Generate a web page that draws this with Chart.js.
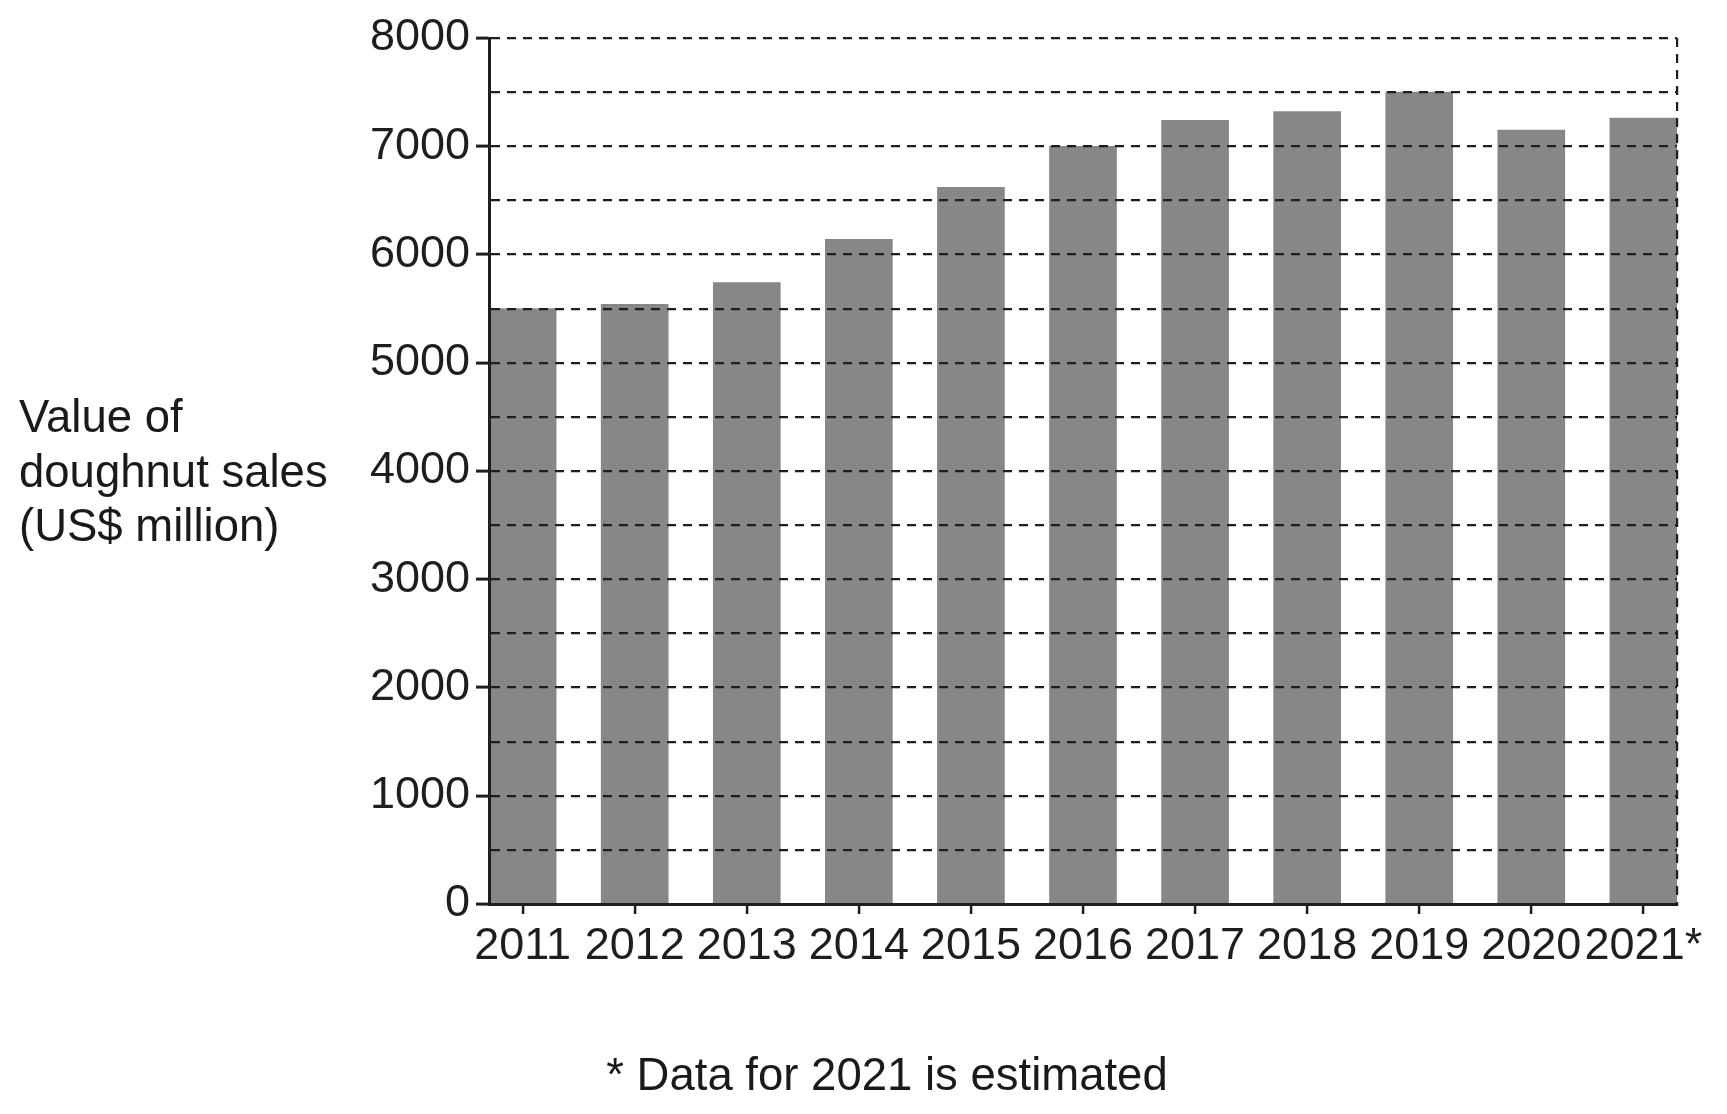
<!DOCTYPE html>
<html>
<head>
<meta charset="utf-8">
<script src="https://cdn.jsdelivr.net/npm/chart.js@4.4.0/dist/chart.umd.min.js"></script>
<style>
  html, body { margin: 0; padding: 0; background: #fff; overflow: hidden; }
  #wrap { position: relative; width: 1727px; height: 1114px; }
  #yTitle { position: absolute; left: 19px; top: 390px; font: 45.5px/54.5px "Liberation Sans", Arial, sans-serif; color: #1a1a1a; }
  #note { position: absolute; left: 887px; top: 1048px; transform: translateX(-50%); white-space: nowrap; font: 45.5px/54px "Liberation Sans", Arial, sans-serif; color: #1a1a1a; }
</style>
</head>
<body>
<div id="wrap">
  <canvas id="salesChart" width="1727" height="1114"></canvas>
  <div id="yTitle">Value of<br>doughnut sales<br>(US$ million)</div>
  <div id="note">* Data for 2021 is estimated</div>
</div>
<script>
let years = ["2011", "2012", "2013", "2014", "2015", "2016", "2017", "2018", "2019", "2020", "2021*"];
let sales = [5500, 5540, 5740, 6140, 6620, 7000, 7240, 7320, 7500, 7150, 7260];
let yMax = 8000;
let yStep = 500;       // dashed grid every 500
let yLabelEvery = 1000; // labelled ticks

const ink = "#1e1e1e";
const tickFont = { family: "'Liberation Sans', Arial, sans-serif", size: 45 };

// is this the extra tick used for the dashed right-hand frame?
const isEdge = ctx => ctx.tick && ctx.tick.value === ctx.scale.max;

new Chart(document.getElementById("salesChart"), {
    type: "bar",
    data: {
        datasets: [{
            data: sales.map((v, i) => ({ x: i, y: v })),
            backgroundColor: "#878787",
            borderWidth: 0,
            barThickness: 67
        }]
    },
    options: {
        responsive: false,
        animation: false,
        layout: { padding: { top: 38, right: 50, left: 0, bottom: 0 } },
        plugins: { legend: { display: false }, tooltip: { enabled: false } },
        scales: {
            x: {
                type: "linear",
                offset: false,
                min: -0.3,
                max: years.length - 1 + 0.3,
                afterBuildTicks: s => {
                    s.ticks = years.map((_, i) => ({ value: i })).concat([{ value: s.max }]);
                },
                afterFit: s => { s.height = 210; },
                ticks: {
                    autoSkip: false,
                    maxRotation: 0,
                    padding: 6,
                    color: ink,
                    font: tickFont,
                    callback: v => years[v] ?? ""
                },
                grid: {
                    offset: false,
                    z: 1,
                    lineWidth: 2.2,
                    color: ctx => isEdge(ctx) ? ink : "transparent",
                    tickColor: ctx => isEdge(ctx) ? "transparent" : ink,
                    tickLength: 10,
                    tickWidth: 2.5
                },
                border: { color: ink, width: 3, z: 2, dash: [9, 7] }
            },
            y: {
                min: 0,
                max: yMax,
                afterFit: s => { s.width = 489; },
                ticks: {
                    stepSize: yStep,
                    autoSkip: false,
                    padding: 6,
                    color: ink,
                    font: tickFont,
                    callback: v => v % yLabelEvery === 0 ? String(v) : ""
                },
                grid: {
                    z: 1,
                    lineWidth: 2.2,
                    color: ink,
                    tickColor: ctx => ctx.tick && ctx.tick.value % yLabelEvery === 0 ? ink : "transparent",
                    tickLength: 13,
                    tickWidth: 3
                },
                border: { color: ink, width: 3, z: 2, dash: [9, 7] }
            }
        }
    }
});
</script>
</body>
</html>
